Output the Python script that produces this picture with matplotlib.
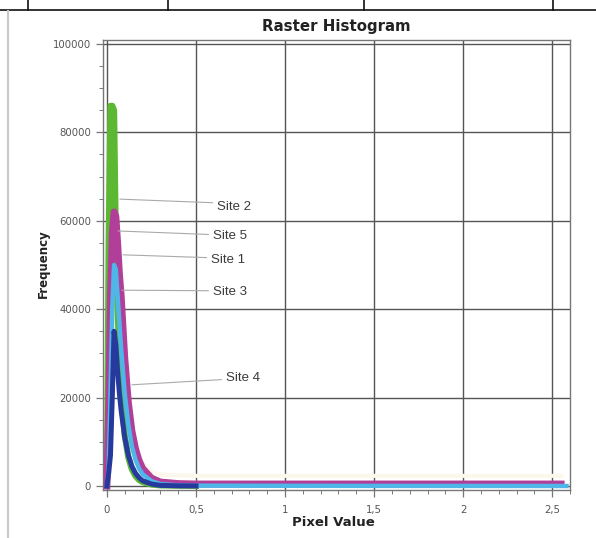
import matplotlib
matplotlib.use("Agg")
import matplotlib.pyplot as plt
from matplotlib.lines import Line2D
from matplotlib.ticker import MultipleLocator, FixedLocator, FixedFormatter

# histogram bins (pixel value) and frequencies
pixel_value = [0.0, 0.01, 0.02, 0.03, 0.04, 0.05, 0.06, 0.07, 0.08, 0.10, 0.12,
               0.14, 0.16, 0.18, 0.20, 0.25, 0.30, 0.40, 0.50, 1.00, 1.50, 2.00,
               2.55, 2.58]

site1 = [0, 1000, 6000, 20000, 40000, 52000, 50000, 44000, 38000, 27000, 19000,
         13500, 9500, 7000, 5200, 3200, 2600, 2400, 2300, 2300, 2300, 2300, 2300]
site2 = [0, 55000, 86000, 86000, 85000, 55000, 40000, 29000, 21000, 11500, 6500,
         3800, 2300, 1400, 900, 350, 150, 80, 50]
site3 = [0, 4000, 20000, 40000, 50000, 49000, 43000, 37000, 31000, 21000, 14000,
         9000, 6000, 4000, 2700, 1100, 450, 150, 80, 50, 30, 20, 10, 0]
site4 = [0, 3000, 7000, 20000, 35000, 32000, 26000, 21000, 17000, 11000, 7000,
         4500, 2900, 1900, 1200, 450, 150, 50, 20]
site5 = [0, 18000, 42000, 57000, 62000, 61000, 55000, 48000, 43000, 29000, 19000,
         12500, 8500, 5800, 4000, 1800, 900, 550, 450, 450, 450, 450, 450]

x_ticks = [0, 0.5, 1, 1.5, 2, 2.5]
x_tick_labels = ['0', '0,5', '1', '1,5', '2', '2,5']
y_ticks = [0, 20000, 40000, 60000, 80000, 100000]
y_tick_labels = ['0', '20000', '40000', '60000', '80000', '100000']

W, H = 596, 538
fig = plt.figure(figsize=(W / 100, H / 100), dpi=100)
fig.patch.set_facecolor('white')

ax = fig.add_axes([103 / W, 48 / H, (570 - 103) / W, (490 - 40) / H])

ax.plot(pixel_value[:len(site1)], site1, color='#fdf6ea', lw=3, zorder=2)
ax.plot(pixel_value[:len(site2)], site2, color='#5cb833', lw=4.5, zorder=3)
ax.plot(pixel_value[:len(site5)], site5, color='#b13e98', lw=5, zorder=4)
ax.plot(pixel_value[:len(site3)], site3, color='#4fb6ea', lw=3.2, zorder=5)
ax.plot(pixel_value[:len(site4)], site4, color='#263a9e', lw=3.6, zorder=6)

ax.set_xlim(-0.022, 2.6)
ax.set_ylim(-900, 100900)

ax.xaxis.set_major_locator(FixedLocator(x_ticks))
ax.xaxis.set_major_formatter(FixedFormatter(x_tick_labels))
ax.xaxis.set_minor_locator(MultipleLocator(0.1))
ax.yaxis.set_major_locator(FixedLocator(y_ticks))
ax.yaxis.set_major_formatter(FixedFormatter(y_tick_labels))
ax.yaxis.set_minor_locator(MultipleLocator(5000))

ax.tick_params(which='both', direction='out', color='#777', labelcolor='#555',
               labelsize=7.3)
ax.tick_params(which='major', length=5, width=0.9)
ax.tick_params(which='minor', length=3, width=0.7)
ax.tick_params(axis='x', pad=6)

ax.grid(which='major', color='#555', lw=1.0, zorder=1)
for s in ax.spines.values():
    s.set_color('#777')
    s.set_linewidth(1.0)

# leader lines to site labels
labels = [('Site 2', (0.073, 64900), (0.617, 63100), 0.85),
          ('Site 5', (0.062, 57700), (0.594, 56600), 0.6),
          ('Site 1', (0.090, 52300), (0.583, 51100), 0.7),
          ('Site 3', (0.084, 44300), (0.594, 43900), 0.6),
          ('Site 4', (0.140, 22900), (0.667, 24400), 0.4)]
for name, xy, xyt, rp in labels:
    ax.annotate(name, xy=xy, xytext=xyt, ha='left', va='center',
                fontsize=9.5, color='#3a3a3a', family='Liberation Sans', zorder=7,
                arrowprops=dict(arrowstyle='-', color='#aaa', lw=0.8,
                                shrinkA=1, shrinkB=0, relpos=(0, rp)))

fig.text(336 / W, 1 - 27 / H, 'Raster Histogram', ha='center', va='center',
         fontsize=10.8, fontweight='bold', color='#222')
fig.text(43 / W, 1 - 264 / H, 'Frequency', rotation=90, ha='center',
         va='center', fontsize=8.5, fontweight='bold', color='#222')
fig.text(333 / W, 1 - 522 / H, 'Pixel Value', ha='center', va='center',
         fontsize=9.5, fontweight='bold', color='#222')

# surrounding table / page borders from the screenshot
fig.add_artist(Line2D([0, 1], [1 - 10 / H, 1 - 10 / H], color='#111', lw=1.2,
                      transform=fig.transFigure))
for px in [28, 168, 364, 553]:
    fig.add_artist(Line2D([px / W, px / W], [1, 1 - 10 / H], color='#111',
                          lw=1.2, transform=fig.transFigure))
fig.add_artist(Line2D([8 / W, 8 / W], [0, 1 - 11 / H], color='#c8c8c8', lw=1.5,
                      transform=fig.transFigure))

fig.savefig('out.png', dpi=100)
